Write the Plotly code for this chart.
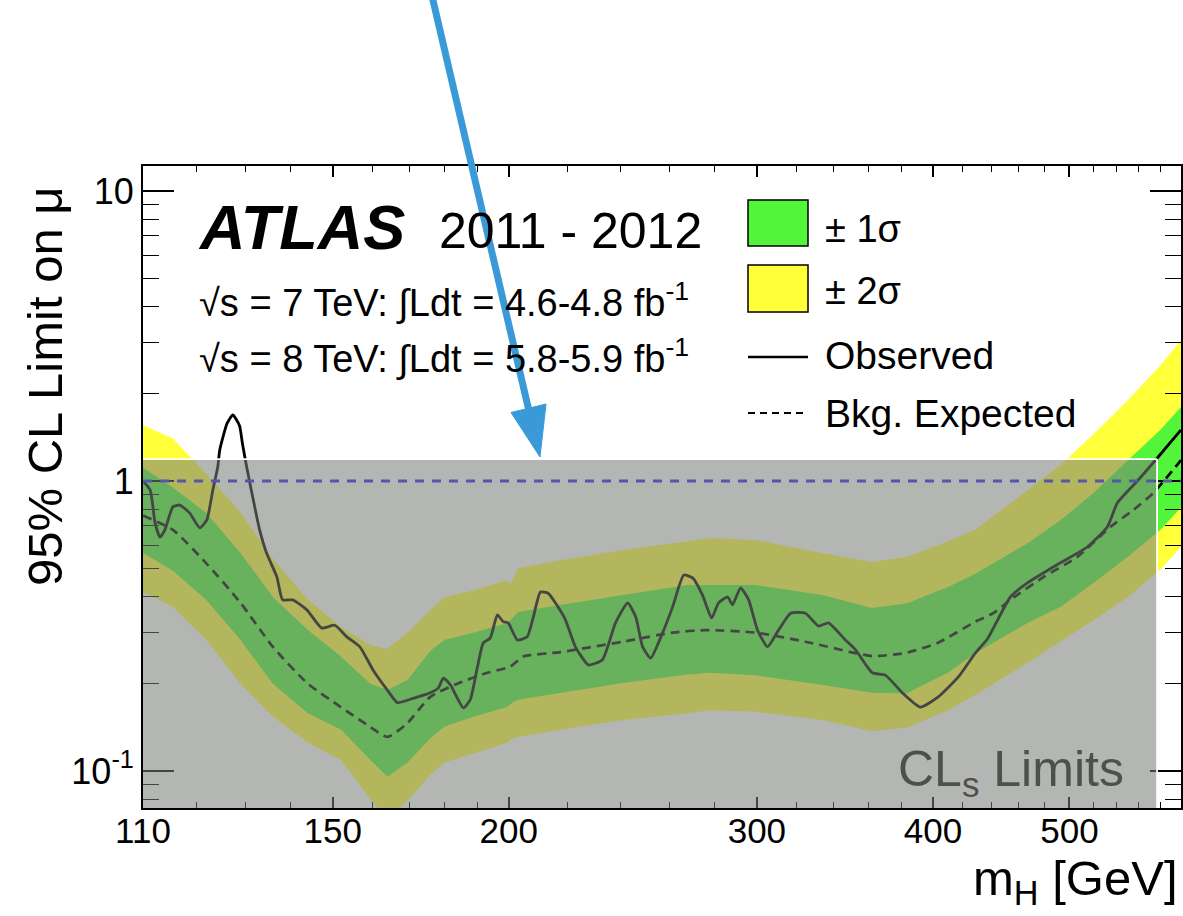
import math
import plotly.graph_objects as go

# ---------------- data ----------------
mass_band = [110, 115.5, 122, 129, 136, 144, 152, 159.5, 164, 169.5,
             176, 180, 189, 199.5, 200.5, 203, 218, 241, 268, 278,
             299, 334, 362, 383, 410, 429, 467, 493, 520, 550,
             580, 600]
band2_up = [1.56, 1.40, 1.06, 0.78, 0.54, 0.39, 0.314, 0.272, 0.264, 0.30,
            0.36, 0.398, 0.42, 0.456, 0.44, 0.50, 0.534, 0.578, 0.62, 0.636,
            0.626, 0.565, 0.526, 0.547, 0.62, 0.68, 0.93, 1.14, 1.45, 1.9,
            2.5, 3.06]
band1_up = [1.11, 0.95, 0.776, 0.565, 0.398, 0.306, 0.248, 0.20, 0.19, 0.206,
            0.26, 0.283, 0.30, 0.324, 0.33, 0.353, 0.374, 0.404, 0.438, 0.438,
            0.438, 0.404, 0.365, 0.378, 0.431, 0.48, 0.61, 0.734, 0.909, 1.18,
            1.5, 1.8]
band1_lo = [0.565, 0.49, 0.389, 0.283, 0.20, 0.158, 0.139, 0.109, 0.0954, 0.107,
            0.13, 0.142, 0.154, 0.166, 0.17, 0.176, 0.186, 0.201, 0.215, 0.218,
            0.214, 0.198, 0.186, 0.185, 0.218, 0.255, 0.324, 0.368, 0.445, 0.547,
            0.678, 0.81]
band2_lo = [0.414, 0.368, 0.283, 0.20, 0.154, 0.125, 0.109, 0.08, 0.068, 0.079,
            0.097, 0.107, 0.115, 0.125, 0.128, 0.131, 0.139, 0.15, 0.158, 0.162,
            0.16, 0.15, 0.137, 0.141, 0.162, 0.183, 0.236, 0.28, 0.33, 0.398,
            0.494, 0.592]

mass_exp = [110, 115.5, 122, 129, 136, 144, 152, 159.4, 164, 169.4,
            175.9, 183.9, 193.1, 200.5, 204.8, 217.6, 240.9, 261.4, 275.9, 299.3,
            324.8, 352.4, 362.3, 382.3, 403.5, 428.7, 441.5, 454, 479.1, 506.4,
            534.5, 555, 573.4, 600]
exp_vals = [0.76, 0.678, 0.52, 0.38, 0.268, 0.20, 0.166, 0.142, 0.131, 0.146,
            0.18, 0.20, 0.218, 0.229, 0.248, 0.257, 0.279, 0.30, 0.306, 0.30,
            0.279, 0.255, 0.249, 0.255, 0.277, 0.327, 0.35, 0.389, 0.466, 0.547,
            0.694, 0.794, 0.909, 1.18]

mass_obs = [110, 111.3, 112.2, 113.1, 114.0, 115.5, 116.8, 118.7, 120.7, 122.1,
            123.3, 124.3, 124.7, 126.2, 127.4, 128.8, 129.4, 130.3, 130.9, 133.1,
            134.6, 136.9, 138.2, 140.5, 143.8, 147.3, 150.5, 153.5, 156.8, 160.2,
            164.0, 166.7, 171.1, 175.9, 178.2, 179.7, 181.8, 185.7, 187.8, 190.0,
            191.8, 194.0, 196.3, 198.2, 199.8, 202.8, 206.1, 208.2, 210.6, 213.3,
            215.8, 219.4, 223.0, 227.8, 233.1, 238.1, 242.9, 246.1, 248.9, 252.2,
            257.2, 261.4, 266.2, 270.1, 274.5, 278.6, 281.8, 286.0, 288.3, 292.1,
            296.0, 300.3, 305.3, 310.8, 317.0, 324.8, 331.8, 337.2, 346.7, 352.4,
            362.3, 370.1, 380.5, 391.8, 403.5, 417.0, 428.7, 437.2, 454.0, 466.8,
            492.6, 514.8, 531.9, 540.7, 558.7, 577.2, 600]
obs_vals = [1.0, 0.93, 0.716, 0.64, 0.678, 0.814, 0.826, 0.776, 0.689, 0.734,
            0.93, 1.12, 1.28, 1.58, 1.69, 1.55, 1.35, 1.12, 1.0, 0.678,
            0.565, 0.467, 0.389, 0.389, 0.359, 0.311, 0.318, 0.29, 0.268, 0.223,
            0.19, 0.172, 0.178, 0.186, 0.193, 0.209, 0.198, 0.165, 0.176, 0.228,
            0.276, 0.287, 0.345, 0.327, 0.324, 0.283, 0.29, 0.34, 0.414, 0.41,
            0.38, 0.332, 0.268, 0.232, 0.242, 0.324, 0.38, 0.34, 0.268, 0.245,
            0.30, 0.368, 0.474, 0.463, 0.404, 0.337, 0.38, 0.398, 0.374, 0.428,
            0.389, 0.306, 0.268, 0.306, 0.35, 0.35, 0.316, 0.324, 0.283, 0.262,
            0.218, 0.214, 0.186, 0.166, 0.18, 0.211, 0.255, 0.285, 0.398, 0.445,
            0.522, 0.592, 0.694, 0.84, 1.0, 1.2, 1.5]

x_tick_vals = [110, 150, 200, 300, 400, 500]
x_tick_text = ["110", "150", "200", "300", "400", "500"]
x_minor_vals = [120, 130, 140, 160, 170, 180, 190, 220, 240, 260, 280,
                320, 340, 360, 380, 420, 440, 460, 480, 520, 540, 560, 580]
y_tick_vals = [0.1, 1, 10]
y_tick_text = ["10<sup>-1</sup>", "1", "10"]
y_minor_vals = [0.08, 0.09, 0.2, 0.3, 0.4, 0.5, 0.6, 0.7, 0.8, 0.9,
                2, 3, 4, 5, 6, 7, 8, 9]

x_range = [110, 600]
y_range = [0.0745, 12.2]
excluded_box = [110, 577, 1.19]   # x from, x to, upper y of grey overlay
limit_line = 1.0

# ---------------- styling ----------------
W, H = 1183, 916
PL, PR, PT, PB = 143, 1181, 166, 808
FONT = "Liberation Sans, Arial, Helvetica, sans-serif"
GREEN = "#52f53a"
YELLOW = "#ffff3a"


def px(x):
    return (x - PL) / (PR - PL)


def py(y):
    return (PB - y) / (PB - PT)


fig = go.Figure()
fig.add_trace(go.Scatter(
    x=mass_band + mass_band[::-1], y=band2_up + band2_lo[::-1],
    fill="toself", fillcolor=YELLOW, mode="none", hoverinfo="skip",
    showlegend=False))
fig.add_trace(go.Scatter(
    x=mass_band + mass_band[::-1], y=band1_up + band1_lo[::-1],
    fill="toself", fillcolor=GREEN, mode="none", hoverinfo="skip",
    showlegend=False))
fig.add_trace(go.Scatter(
    x=mass_exp, y=exp_vals, mode="lines",
    line=dict(color="black", width=2.7, dash="9px,6px", shape="spline",
              smoothing=0.6),
    showlegend=False))
fig.add_trace(go.Scatter(
    x=mass_obs, y=obs_vals, mode="lines",
    line=dict(color="black", width=2.8, shape="spline", smoothing=0.5),
    showlegend=False))

axis_common = dict(showline=True, linecolor="black", linewidth=2,
                   mirror="allticks", ticks="inside", tickcolor="black",
                   showgrid=False, zeroline=False, automargin=False)

fig.update_xaxes(
    type="log", range=[math.log10(x_range[0]), math.log10(x_range[1])],
    tickmode="array", tickvals=x_tick_vals, ticktext=x_tick_text,
    ticklen=11, tickwidth=1.6,
    tickfont=dict(family=FONT, size=35, color="black"),
    ticklabelstandoff=-9,
    minor=dict(tickmode="array", tickvals=x_minor_vals, ticks="inside",
               ticklen=6, tickwidth=1.4, tickcolor="black", showgrid=False),
    **axis_common)
fig.update_yaxes(
    type="log", range=[math.log10(y_range[0]), math.log10(y_range[1])],
    tickmode="array", tickvals=y_tick_vals, ticktext=y_tick_text,
    ticklen=31, tickwidth=1.6,
    tickfont=dict(family=FONT, size=36, color="black"),
    ticklabelstandoff=0,
    minor=dict(tickmode="array", tickvals=y_minor_vals, ticks="inside",
               ticklen=16, tickwidth=1.4, tickcolor="black", showgrid=False),
    **axis_common)

shapes = []
# grey overlay marking the excluded region
shapes.append(dict(type="rect", xref="x", yref="y", layer="above",
                   x0=excluded_box[0], x1=excluded_box[1],
                   y0=y_range[0], y1=excluded_box[2],
                   fillcolor="rgba(121,124,121,0.56)", line=dict(width=0)))
shapes.append(dict(type="line", xref="x", yref="y", layer="above",
                   x0=excluded_box[0], x1=excluded_box[1],
                   y0=excluded_box[2], y1=excluded_box[2],
                   line=dict(color="white", width=1.8)))
shapes.append(dict(type="line", xref="x", yref="y", layer="above",
                   x0=excluded_box[1], x1=excluded_box[1],
                   y0=y_range[0], y1=excluded_box[2],
                   line=dict(color="white", width=1.8)))
# dashed limit line at mu = 1
shapes.append(dict(type="line", xref="x", yref="y", layer="above",
                   x0=x_range[0], x1=x_range[1], y0=limit_line, y1=limit_line,
                   line=dict(color="#5656aa", width=3, dash="9px,8px")))
# blue pointer arrow (shaft + head)
ARROW = "#3a9ad8"
shapes.append(dict(type="line", xref="paper", yref="paper", layer="above",
                   x0=px(432), y0=py(-4), x1=px(529), y1=py(411),
                   line=dict(color=ARROW, width=7)))
head = [(540, 457), (546, 404), (511, 412.5)]
path = "M {} {} L {} {} L {} {} Z".format(
    px(head[0][0]), py(head[0][1]), px(head[1][0]), py(head[1][1]),
    px(head[2][0]), py(head[2][1]))
shapes.append(dict(type="path", xref="paper", yref="paper", layer="above",
                   path=path, fillcolor=ARROW, line=dict(color=ARROW, width=1)))
# legend symbols
shapes.append(dict(type="rect", xref="paper", yref="paper", layer="above",
                   x0=px(748), x1=px(808), y0=py(246), y1=py(200),
                   fillcolor=GREEN, line=dict(color="black", width=1.5)))
shapes.append(dict(type="rect", xref="paper", yref="paper", layer="above",
                   x0=px(748), x1=px(808), y0=py(312), y1=py(265),
                   fillcolor=YELLOW, line=dict(color="black", width=1.5)))
shapes.append(dict(type="line", xref="paper", yref="paper", layer="above",
                   x0=px(748), x1=px(808), y0=py(357), y1=py(357),
                   line=dict(color="black", width=2.6)))
shapes.append(dict(type="line", xref="paper", yref="paper", layer="above",
                   x0=px(748), x1=px(808), y0=py(413), y1=py(413),
                   line=dict(color="black", width=2.2, dash="7px,5px")))


def label(text, x, y, size, xanchor="left", yanchor="middle", color="black",
          angle=0):
    return dict(text=text, x=px(x), y=py(y), xref="paper", yref="paper",
                xanchor=xanchor, yanchor=yanchor, showarrow=False,
                textangle=angle,
                font=dict(family=FONT, size=size, color=color))


annotations = [
    label("<b><i>ATLAS</i></b>", 196, 227, 63),
    label("2011 - 2012", 437, 231, 50),
    label("√s = 7 TeV: ∫Ldt = 4.6-4.8 fb<sup>-1</sup>", 197, 300, 38),
    label("√s = 8 TeV: ∫Ldt = 5.8-5.9 fb<sup>-1</sup>", 197, 356, 38),
    label("± 1σ", 823, 229, 38),
    label("± 2σ", 823, 291, 38),
    label("Observed", 823, 355, 39),
    label("Bkg. Expected", 823, 413, 39),
    label("CL<sub>s</sub> Limits", 1126, 772, 50, xanchor="right",
          color="#4e504e"),
    label("95% CL Limit on μ", 45, 386, 49, xanchor="center", angle=-90),
    label("m<sub>H</sub> [GeV]", 1180, 882, 49, xanchor="right"),
]

fig.update_layout(
    width=W, height=H,
    margin=dict(l=PL, r=W - PR, t=PT, b=H - PB, pad=0),
    paper_bgcolor="white", plot_bgcolor="white",
    showlegend=False,
    shapes=shapes, annotations=annotations,
    font=dict(family=FONT, color="black"),
)

fig.write_html(
    "out.html",
    config={"displayModeBar": False},
    post_script="document.body.style.margin='0';"
                "document.body.style.overflow='hidden';",
)
